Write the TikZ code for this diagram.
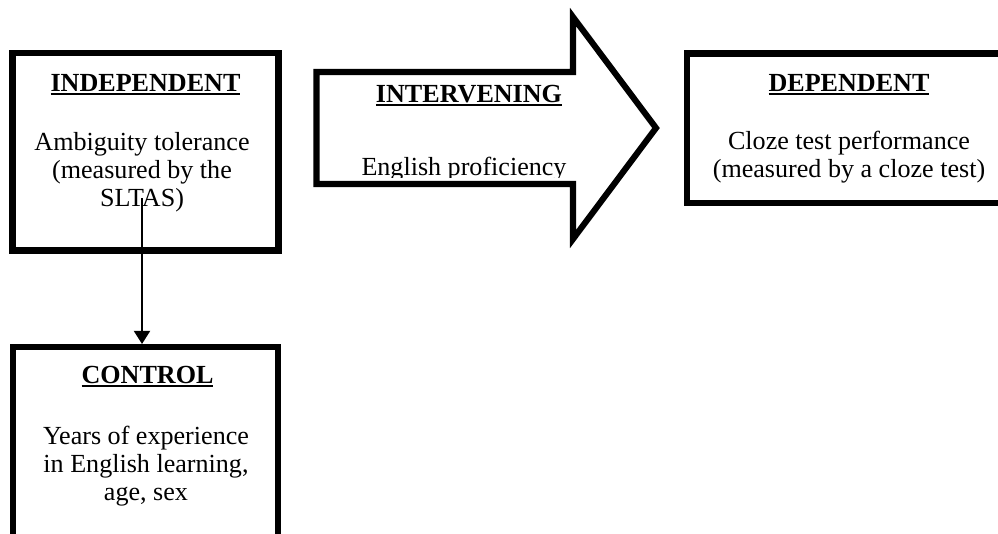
\documentclass[tikz,border=0pt]{standalone}
\usepackage{fontspec}
\setmainfont{Liberation Serif}
\usetikzlibrary{arrows.meta,fit}
\newcommand\ulhead[1]{\setbox0\hbox{#1}\rlap{\rule[-1.8pt]{\wd0}{0.9pt}}\box0}

\begin{document}
\begin{tikzpicture}[x=0.46pt,y=-0.46pt,
		frame/.style={draw,line width=2.8pt,inner sep=0pt},
		title/.style={font=\fontsize{12}{12.7}\selectfont\bfseries,anchor=base,inner sep=0pt},
		body/.style={font=\fontsize{12}{12.7}\selectfont,align=center,anchor=base,inner sep=0pt},
		link/.style={line width=0.8pt,-{Triangle[width=7.4pt,length=6pt]}}]
		\useasboundingbox (0,0) rectangle (998,533);
		\clip (0,0) rectangle (998,533);
		
		% boxes
		\node[frame,fit={(12.5,53) (278.5,250.5)}] (indep) {};
		\node[frame,fit={(13,347) (278,640)}] (ctrl) {};
		\node[frame,fit={(687,53.5) (1100,203)}] (dep) {};
		
		% block arrow
		\draw[line width=2.8pt] (316.5,72) -- (573,72) -- (573,17) -- (656,128)
			-- (573,239) -- (573,184) -- (316.5,184) -- cycle;
		
		% base of a text block is its last line
		\node[title] (indeptitle) at (145.5,91) {\ulhead{INDEPENDENT}};
		\node[body] (indeptext) at (142,206) {Ambiguity tolerance\\(measured by the\\SLTAS)};
		
		\node[title] (intertitle) at (469,102) {\ulhead{INTERVENING}};
		\begin{scope}
			\clip (320,76) rectangle (570,177.5);
			\node[body] (intertext) at (464,175) {English proficiency};
		\end{scope}
		
		\node[title] (deptitle) at (849,91) {\ulhead{DEPENDENT}};
		\node[body] (deptext) at (849,177) {Cloze test performance\\(measured by a cloze test)};
		
		\node[title] (ctrltitle) at (147.5,383) {\ulhead{CONTROL}};
		\node[body] (ctrltext) at (146,500) {Years of experience\\in English learning,\\age, sex};
		
		\coordinate (src) at (142,198);
		\draw[link] (src) -- (src |- ctrl.north);
	\end{tikzpicture}
\end{document}
